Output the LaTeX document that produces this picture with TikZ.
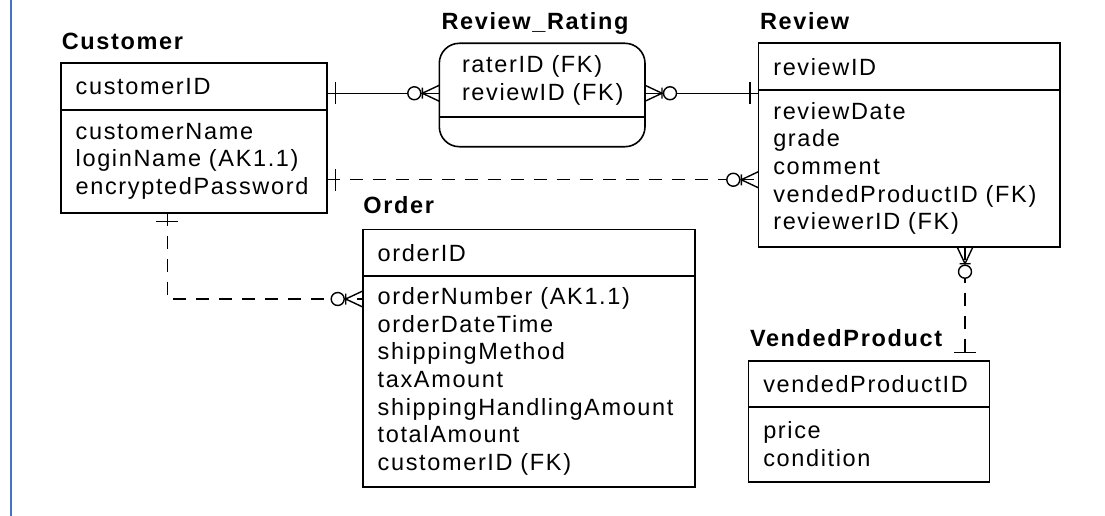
\documentclass[tikz,border=0pt]{standalone}
\usepackage{fontspec}
\setmainfont{Liberation Sans}[LetterSpace=7]
\usetikzlibrary{positioning}
\newcommand{\erfont}{\fontsize{23.5pt}{27.7pt}\selectfont}
\hyphenpenalty=10000
\definecolor{frameblue}{RGB}{68,114,196}
\tikzset{
	entity/.style={draw, line width=1.6pt, outer sep=0pt, inner xsep=15pt, inner ysep=0pt, align=left, font=\erfont}, % Parte de una tabla
	keypart/.style={entity, minimum height=46.7pt}, % Parte de la clave primaria
	etitle/.style={font=\erfont\bfseries, inner sep=0pt}, % Nombre de la entidad
	rel/.style={line width=1.4pt}, % Relacion identificadora
	optrel/.style={rel, dash pattern=on 13pt off 10pt}, % Relacion no identificadora
	one/.pic={\draw[rel] (-8.5,-11) -- (-8.5,11);}, % Exactamente uno
	zeromany/.pic={ % Cero o muchos
		\draw[rel] (0,-8) -- (-17,0) -- (0,8) (-17,-5.5) -- (-17,5.5);
		\draw[rel, fill=white] (-25,0) circle (6.5);
	}
}

\begin{document}
\begin{tikzpicture}[x=1pt, y=-1pt]
	\useasboundingbox (0,0) rectangle (1105,516);
	\draw[line width=2pt, frameblue] (10.5,0) -- (10.5,516);

	\node[keypart, text width=236pt, anchor=north west] (custK) at (60.7,63.3) {customerID};
	\node[entity, text width=236pt, minimum height=102.7pt, below=0pt of custK] (custA) {customerName\\loginName~(AK1.1)\\encryptedPassword};
	\node[etitle, above right=13.5pt and 1pt of custK.north west, anchor=base west] (custT) {Customer};

	\node[entity, draw=none, inner xsep=22.7pt, text width=160.3pt, minimum height=74pt, anchor=north west] (rrK) at (439.3,43.3) {raterID~(FK)\\reviewID~(FK)};
	\node[entity, draw=none, inner xsep=22.7pt, text width=160.3pt, minimum height=29.4pt, below=0pt of rrK] (rrA) {};
	\draw[line width=1.6pt, rounded corners=20pt] (rrK.north west) rectangle (rrA.south east);
	\draw[line width=1.6pt] (rrK.south west) -- (rrK.south east);
	\node[etitle, above right=14pt and 2pt of rrK.north west, anchor=base west] (rrT) {Review\_Rating};

	\node[keypart, text width=271.7pt, anchor=north west] (revK) at (758.3,43.3) {reviewID};
	\node[entity, text width=271.7pt, minimum height=156.7pt, below=0pt of revK] (revA) {reviewDate\\grade\\comment\\vendedProductID~(FK)\\reviewerID~(FK)};
	\node[etitle, above right=14pt and 1.5pt of revK.north west, anchor=base west] (revT) {Review};

	\node[keypart, text width=302.3pt, anchor=north west] (ordK) at (362.7,229.3) {orderID};
	\node[entity, text width=302.3pt, minimum height=210.7pt, below=0pt of ordK] (ordA) {orderNumber~(AK1.1)\\orderDateTime\\shippingMethod\\taxAmount\\shippingHandlingAmount\\totalAmount\\customerID~(FK)};
	\node[etitle, above right=15.5pt and 0.5pt of ordK.north west, anchor=base west] (ordT) {Order};

	\node[keypart, text width=211pt, minimum height=46pt, anchor=north west] (vpK) at (748.3,360.7) {vendedProductID};
	\node[entity, text width=211pt, minimum height=75pt, below=0pt of vpK] (vpA) {price\\condition};
	\node[etitle, above right=14.7pt and 1.5pt of vpK.north west, anchor=base west] (vpT) {VendedProduct};

	% puntos de union
	\coordinate (cr) at ([yshift=-6.6pt]custK.east);
	\coordinate (cv) at ([yshift=-18.4pt]custA.east);
	\coordinate (co) at ([xshift=-26.4pt]custA.south);
	\coordinate (oc) at ([yshift=-23pt]ordA.north west);
	\coordinate (rv) at ([xshift=55.85pt]revA.south);

	\draw[rel] (cr) -- (cr -| rrK.west);
	\draw[rel] (rrK.east |- cr) -- (cr -| revK.west);
	\draw[optrel] (cv) -- (cv -| revA.west);
	\draw[optrel] (co) |- (oc);
	\draw[optrel] (rv) -- (rv |- vpK.north);

	\pic[rotate=180] at (cr) {one};
	\pic at (cr -| rrK.west) {zeromany};
	\pic[rotate=180] at (rrK.east |- cr) {zeromany};
	\pic at (cr -| revK.west) {one};
	\pic[rotate=180] at (cv) {one};
	\pic at (cv -| revA.west) {zeromany};
	\pic[rotate=90] at (co) {one};
	\pic at (oc) {zeromany};
	\pic[rotate=90] at (rv) {zeromany};
	\pic[rotate=-90] at (rv |- vpK.north) {one};
\end{tikzpicture}
\end{document}
